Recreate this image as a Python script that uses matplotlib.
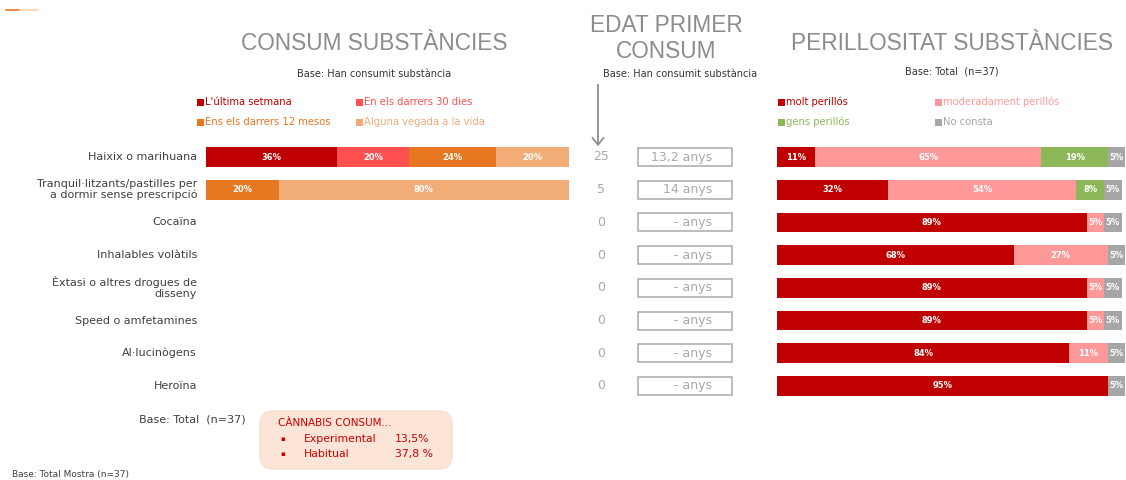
import numpy as np
import matplotlib
matplotlib.use("Agg")
import matplotlib.pyplot as plt
from matplotlib.patches import FancyBboxPatch, Rectangle, FancyArrowPatch
from matplotlib.lines import Line2D

W, H = 1126, 480

substances = ["Haixix o marihuana",
              "Tranquil·litzants/pastilles per\na dormir sense prescripció",
              "Cocaïna", "Inhalables volàtils",
              "Èxtasi o altres drogues de\ndisseny",
              "Speed o amfetamines", "Al·lucinògens", "Heroïna"]

# consum substancies (%)
consum_labels = ["L'última setmana", "En els darrers 30 dies",
                 "Ens els darrers 12 mesos", "Alguna vegada a la vida"]
consum_colors = ["#C00000", "#FF5050", "#E87722", "#F2AC78"]
ultima_setmana = [36, 0, 0, 0, 0, 0, 0, 0]
darrers_30 = [20, 0, 0, 0, 0, 0, 0, 0]
darrers_12 = [24, 20, 0, 0, 0, 0, 0, 0]
alguna_vegada = [20, 80, 0, 0, 0, 0, 0, 0]

# edat primer consum
n_consum = [25, 5, 0, 0, 0, 0, 0, 0]
edat = ["13,2", "14", "-", "-", "-", "-", "-", "-"]

# perillositat (%)
peril_labels = ["molt perillós", "moderadament perillós", "gens perillós", "No consta"]
peril_colors = ["#C00000", "#FF9999", "#8DB85A", "#A6A6A6"]
molt = [11, 32, 89, 68, 89, 89, 84, 95]
moderat = [65, 54, 5, 27, 5, 5, 11, 0]
gens = [19, 8, 0, 0, 0, 0, 0, 0]
no_consta = [5, 5, 5, 5, 5, 5, 5, 5]


def fx(x):
    return x / W


def fy(y):
    return 1 - y / H


fig = plt.figure(figsize=(W / 100, H / 100), dpi=100)
fig.patch.set_facecolor("white")

row0, step = 157, 32.7
ax_top = row0 - step / 2
ax_h = step * len(substances)


def make_ax(x0, x1):
    ax = fig.add_axes([fx(x0), fy(ax_top + ax_h), (x1 - x0) / W, ax_h / H])
    ax.set_xlim(0, 100)
    ax.set_ylim(len(substances) - 0.5, -0.5)
    ax.axis("off")
    return ax


def stacked(ax, series, colors):
    y = np.arange(len(substances))
    left = np.zeros(len(substances))
    for vals, col in zip(series, colors):
        vals = np.array(vals, dtype=float)
        ax.barh(y, vals, left=left, height=0.6, color=col, edgecolor="none")
        for yi, (l, v) in enumerate(zip(left, vals)):
            if v > 0:
                ax.text(l + v / 2, yi, f"{int(v)}%", ha="center", va="center",
                        color="white", fontsize=6, fontweight="bold")
        left += vals


ax1 = make_ax(206, 569)
stacked(ax1, [ultima_setmana, darrers_30, darrers_12, alguna_vegada], consum_colors)

ax2 = make_ax(777, 1125)
stacked(ax2, [molt, moderat, gens, no_consta], peril_colors)

# row labels, counts and age boxes
for i, name in enumerate(substances):
    yc = row0 + i * step
    fig.text(fx(197), fy(yc), name, ha="right", va="center", fontsize=8,
             color="#404040", linespacing=1.1, multialignment="right")
    fig.text(fx(601), fy(yc), str(n_consum[i]), ha="center", va="center",
             fontsize=9, color="#A8A8A8")
    fig.patches.append(Rectangle((fx(638), fy(yc + 9)), 94 / W, 18 / H,
                                 transform=fig.transFigure, facecolor="white",
                                 edgecolor="#B0B0B0", linewidth=1.2))
    fig.text(fx(712), fy(yc), f"{edat[i]} anys", ha="right", va="center",
             fontsize=9, color="#A8A8A8")

# titles
title_kw = dict(ha="center", va="center", fontsize=16.3, color="#8C8C8C",
                family="Liberation Sans")
fig.text(fx(374), fy(44), "CONSUM SUBSTÀNCIES", **title_kw)
fig.text(fx(666), fy(26), "EDAT PRIMER", **title_kw)
fig.text(fx(666), fy(52), "CONSUM", **title_kw)
fig.text(fx(952), fy(44), "PERILLOSITAT SUBSTÀNCIES", **title_kw)

sub_kw = dict(ha="center", va="center", fontsize=7, color="#333333")
fig.text(fx(374), fy(74), "Base: Han consumit substància", **sub_kw)
fig.text(fx(680), fy(74), "Base: Han consumit substància", **sub_kw)
fig.text(fx(952), fy(72), "Base: Total  (n=37)", **sub_kw)


# legends
def legend(labels, colors, xs, ys):
    for k, (lab, col) in enumerate(zip(labels, colors)):
        x = xs[k % 2]
        y = ys[k // 2]
        fig.patches.append(Rectangle((fx(x), fy(y + 3.5)), 7 / W, 7 / H,
                                     transform=fig.transFigure, facecolor=col,
                                     edgecolor="none"))
        fig.text(fx(x + 8), fy(y), lab, ha="left", va="center", fontsize=7.2,
                 color=col)


legend(consum_labels, consum_colors, [197, 356], [102, 122])
legend(peril_labels, peril_colors, [778, 935], [102, 122])

# arrow
fig.add_artist(FancyArrowPatch(
    (fx(598), fy(82)), (fx(598), fy(149)), transform=fig.transFigure,
    arrowstyle="->,head_length=5,head_width=4", color="#909090", lw=1.3))

# bottom notes
fig.text(fx(246), fy(419), "Base: Total  (n=37)", ha="right", va="center",
         fontsize=8, color="#404040")
fig.patches.append(FancyBboxPatch((fx(260), fy(469)), 192 / W, 58 / H,
                                  boxstyle="round,pad=0,rounding_size=0.012",
                                  transform=fig.transFigure,
                                  facecolor="#FCE4D6", edgecolor="#FBE0CF",
                                  mutation_aspect=W / H))
red = "#CC0000"
fig.text(fx(278), fy(423), "CÀNNABIS CONSUM...", ha="left", va="center",
         fontsize=7.5, color=red)
for yy, lab, val in [(439, "Experimental", "13,5%"), (454, "Habitual", "37,8 %")]:
    fig.text(fx(283), fy(yy), "▪", ha="center", va="center", fontsize=5, color=red)
    fig.text(fx(304), fy(yy), lab, ha="left", va="center", fontsize=7.8, color=red)
    fig.text(fx(395), fy(yy), val, ha="left", va="center", fontsize=7.8, color=red)

fig.text(fx(12), fy(474), "Base: Total Mostra (n=37)", ha="left", va="center",
         fontsize=6.5, color="#404040")

# small orange mark top-left
fig.add_artist(Line2D([fx(6), fx(20)], [fy(10), fy(10)],
                      transform=fig.transFigure, color="#E87722", lw=1.2))
fig.add_artist(Line2D([fx(20), fx(38)], [fy(10), fy(10)],
                      transform=fig.transFigure, color="#F8D3B0", lw=1.2))

fig.savefig("out.png", dpi=100, facecolor="white")
